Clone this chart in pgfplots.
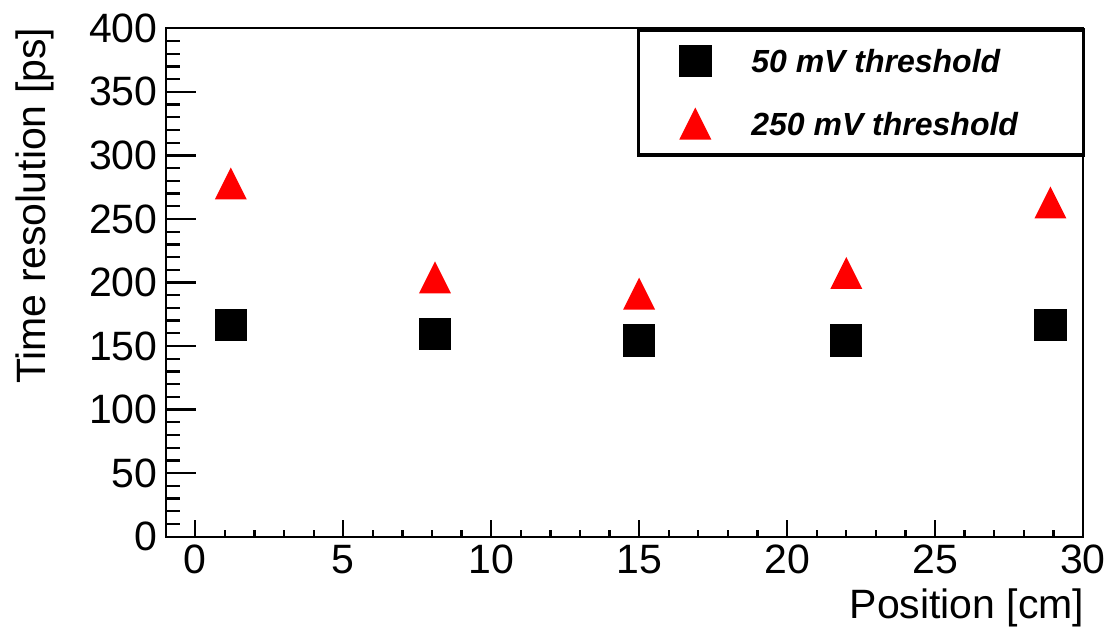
\documentclass[border=0pt]{standalone}
\usepackage{fontspec}
\setmainfont{Liberation Sans}
\usepackage{pgfplots}
\pgfplotsset{compat=1.18}
\pgfdeclareplotmark{roottri}{%
  \pgfpathmoveto{\pgfqpoint{-\pgfplotmarksize}{-\pgfplotmarksize}}%
  \pgfpathlineto{\pgfqpoint{\pgfplotmarksize}{-\pgfplotmarksize}}%
  \pgfpathlineto{\pgfqpoint{0pt}{\pgfplotmarksize}}%
  \pgfpathclose\pgfusepathqfill}
\pgfplotsset{
  rootframe/.style={
    scale only axis, width=458.65pt, height=254.2pt,
    at={(0pt,0pt)}, anchor=south west,
    xmin=-1, xmax=30, ymin=0, ymax=400,
    axis line style={line width=1.15pt, black},
    tick style={line width=1.15pt, black},
    tick pos=left, tick align=inside,
    tick label style={font=\fontsize{20.5}{24}\selectfont},
    label style={font=\fontsize{20.5}{24}\selectfont},
    /pgf/number format/assume math mode=true,
  }
}
\begin{document}
\begin{tikzpicture}
\begin{axis}[rootframe,
  xtick=\empty, ytick={0,50,...,400}, yticklabels={}, minor y tick num=4,
  major tick length=15pt, minor tick length=7pt]
\end{axis}
\begin{axis}[rootframe,
  xtick={0,5,...,30}, ytick={0,50,...,400},
  minor x tick num=4, minor y tick num=4,
  major tick length=8.5pt, minor tick length=3.5pt,
  xticklabel style={inner sep=4pt},
  yticklabel style={inner sep=3.85pt},
  xlabel={Position [cm]},
  ylabel={Time resolution [ps]},
  xlabel style={at={(axis description cs:1.002,-0.101)}, anchor=north east, inner sep=0pt},
  ylabel style={at={(axis description cs:-0.1425,1.002)}, anchor=east, inner sep=0pt},
  legend style={at={(axis description cs:1.0022,1)}, anchor=north east,
    draw=black, line width=1.7pt, fill=white, inner xsep=8pt, inner ysep=0pt,
    column sep=7.5pt, row sep=0pt,
    nodes={inner sep=0pt, text depth=0pt},
    font=\fontsize{16}{19}\selectfont\bfseries\itshape},
  legend cell align=left,
  legend image code/.code={\path[draw=none, fill=none] (-20.5pt,-15.6pt) rectangle (20.5pt,15.6pt); \draw[#1, line width=0.4pt] plot coordinates {(0pt,0pt)};},
]
\addplot[only marks, mark=square*, mark size=7.8pt, black, line width=0.4pt] coordinates {
  (1.2,166.6) (8.1,159.5) (15.0,154.4) (22.0,154.4) (28.9,166.6)
};
\addlegendentry{\makebox[158pt][l]{50 mV threshold}}
\addplot[only marks, mark=roottri, mark size=8pt, red, line width=0.4pt] coordinates {
  (1.2,277.9) (8.1,204.0) (15.0,191.3) (22.0,207.5) (28.9,263.0)
};
\addlegendentry{\makebox[158pt][l]{250 mV threshold}}
\end{axis}
\pgfresetboundingbox
\path[use as bounding box] (-82.85pt,-45.65pt) rectangle (471.65pt,268.35pt);
\end{tikzpicture}
\end{document}
